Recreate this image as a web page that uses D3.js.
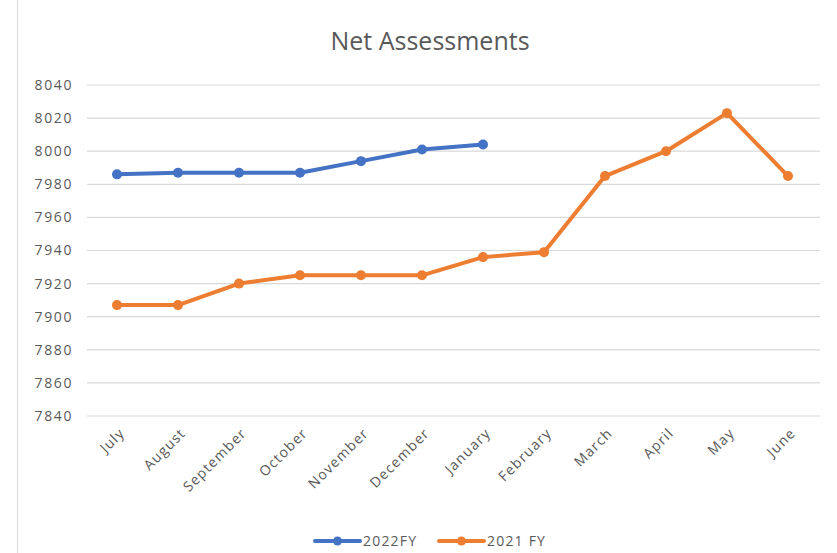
<!DOCTYPE html>
<html>
<head>
<meta charset="utf-8">
<script src="https://cdn.jsdelivr.net/npm/d3@7"></script>
<style>
  body { margin: 0; background: #fff; }
  text { font-family: "Open Sans", "Noto Sans", sans-serif; fill: #595959; }
</style>
</head>
<body>
<div class="chart"></div>
<script>
// data
var months = ["July", "August", "September", "October", "November", "December",
  "January", "February", "March", "April", "May", "June"];
var fy2022 = [7986, 7987, 7987, 7987, 7994, 8001, 8004];
var fy2021 = [7907, 7907, 7920, 7925, 7925, 7925, 7936, 7939, 7985, 8000, 8023, 7985];
var yTicks = [7840, 7860, 7880, 7900, 7920, 7940, 7960, 7980, 8000, 8020, 8040];
var seriesNames = ["2022FY", "2021 FY"];
var colors = ["#4472C4", "#ED7D31"];

var svgW = 837, svgH = 553;
var svg = d3.select(".chart").append("svg")
  .attr("width", svgW)
  .attr("height", svgH);

// chart area border (left edge visible)
svg.append("line")
  .attr("x1", 17.5).attr("x2", 17.5)
  .attr("y1", 0).attr("y2", svgH)
  .attr("stroke", "#d9d9d9");

var x = d3.scalePoint()
  .domain(months)
  .range([117, 788]);

var y = d3.scaleLinear()
  .domain([7840, 8040])
  .range([416, 85]);

// gridlines
svg.append("g")
  .selectAll("line")
  .data(yTicks)
  .enter()
  .append("line")
  .attr("x1", 87).attr("x2", 820)
  .attr("y1", d => y(d)).attr("y2", d => y(d))
  .attr("stroke", "#d9d9d9")
  .attr("stroke-width", 1.2);

// y axis labels
var leftAxis = d3.axisLeft(y).tickValues(yTicks).tickFormat(d3.format("d")).tickSize(0).tickPadding(0);
var yg = svg.append("g")
  .attr("transform", "translate(73,0)")
  .call(leftAxis);
yg.select(".domain").remove();
yg.selectAll("text")
  .style("font-size", "14px")
  .style("letter-spacing", "1.6px")
  .attr("fill", "#595959");

// x axis labels
var bottomAxis = d3.axisBottom(x).tickSize(0).tickPadding(0);
var xg = svg.append("g")
  .call(bottomAxis);
xg.select(".domain").remove();
xg.selectAll("text")
  .style("font-size", "14px")
  .style("letter-spacing", "1.2px")
  .attr("fill", "#595959")
  .attr("text-anchor", "end")
  .attr("dy", 0)
  .attr("y", 0)
  .attr("transform", "translate(8, 434) rotate(-45)");

// lines
var line = d3.line()
  .x((d, i) => x(months[i]))
  .y(d => y(d));

[fy2022, fy2021].forEach(function(vals, k) {
  svg.append("path")
    .datum(vals)
    .attr("d", line)
    .attr("fill", "none")
    .attr("stroke", colors[k])
    .attr("stroke-width", 4)
    .attr("stroke-linejoin", "round");
  svg.append("g")
    .selectAll("circle")
    .data(vals)
    .enter()
    .append("circle")
    .attr("cx", (d, i) => x(months[i]))
    .attr("cy", d => y(d))
    .attr("r", 5)
    .attr("fill", colors[k]);
});

// title
svg.append("text")
  .attr("x", 430)
  .attr("y", 50)
  .attr("text-anchor", "middle")
  .style("font-size", "25px")
  .text("Net Assessments");

// legend
var legendX = [315, 439];
seriesNames.forEach(function(name, k) {
  var lg = svg.append("g").attr("transform", `translate(${legendX[k]}, 541)`);
  lg.append("line")
    .attr("x1", 0).attr("x2", 45)
    .attr("stroke", colors[k])
    .attr("stroke-width", 4)
    .attr("stroke-linecap", "round");
  lg.append("circle")
    .attr("cx", 22.5).attr("r", 4.5)
    .attr("fill", colors[k]);
  lg.append("text")
    .attr("x", 48)
    .attr("y", 5)
    .style("font-size", "14px")
    .style("letter-spacing", "1.2px")
    .text(name);
});
</script>
</body>
</html>
